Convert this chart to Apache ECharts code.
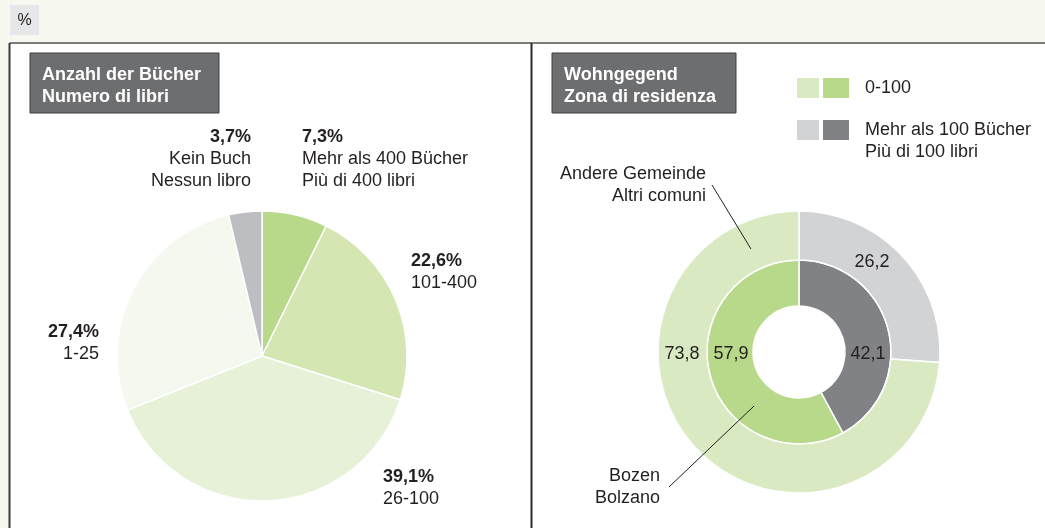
<!DOCTYPE html>
<html>
<head>
<meta charset="utf-8">
<script src="https://cdn.jsdelivr.net/npm/echarts@6/dist/echarts.min.js"></script>
<style>
  html, body { margin: 0; padding: 0; background: #f7f9f0; }
  #chart { width: 1045px; height: 528px; }
</style>
</head>
<body>
<div id="chart"></div>
<script>
// Anzahl der Bücher / Numero di libri (%), clockwise from 12 o'clock
var bookShares = [7.3, 22.6, 39.1, 27.4, 3.7];
var bookNamesDe = ['Mehr als 400 Bücher', '101-400', '26-100', '1-25', 'Kein Buch'];
var bookNamesIt = ['Più di 400 libri', '', '', '', 'Nessun libro'];
var bookColors = ['#b9d98a', '#d4e7b3', '#e7f1d7', '#f4f8ee', '#bcbec1'];

// Wohngegend / Zona di residenza: [Mehr als 100, 0-100]
var bozenValues = [42.1, 57.9];
var otherValues = [26.2, 73.8];
var groupNames = ['Mehr als 100 Bücher', '0-100'];

(function () {
    var chart = echarts.init(document.getElementById('chart'));
    var font = '"Liberation Sans", Arial, sans-serif';
    var txt = '#231f20';

    var fmt = function (v) { return String(v).replace('.', ','); };

    // label anchor per slice: x, y, align
    var bookLabelPos = [
        [302, 126, 'left'],
        [411, 250, 'left'],
        [383, 466, 'left'],
        [99, 321, 'right'],
        [251, 126, 'right']
    ];
    var innerLabelPos = [[868, 354], [731, 354]];
    var outerLabelPos = [[872, 262], [682, 354]];

    var bookData = bookShares.map(function (v, i) {
        return { value: v, name: bookNamesDe[i], itemStyle: { color: bookColors[i] } };
    });

    var option = {
        backgroundColor: '#f7f9f0',
        animation: false,
        textStyle: { fontFamily: font },
        graphic: [
            // % tag
            { type: 'rect', shape: { x: 10, y: 5, width: 29, height: 30 }, style: { fill: '#e6e7e8' } },
            { type: 'text', x: 24.5, y: 21, style: { text: '%', font: '16px ' + font, fill: txt, textAlign: 'center', textVerticalAlign: 'middle' } },
            // white panels
            { type: 'rect', z: -10, shape: { x: 9.5, y: 43, width: 1040, height: 490 }, style: { fill: '#fff' } },
            { type: 'line', shape: { x1: 9.5, y1: 43, x2: 1045, y2: 43 }, style: { stroke: '#7d7d7d', lineWidth: 2 } },
            { type: 'line', shape: { x1: 9.5, y1: 43, x2: 9.5, y2: 528 }, style: { stroke: '#3a3a3a', lineWidth: 2 } },
            { type: 'line', shape: { x1: 531.5, y1: 43, x2: 531.5, y2: 528 }, style: { stroke: '#2a2a2a', lineWidth: 2 } },
            // title boxes
            { type: 'rect', shape: { x: 30, y: 53, width: 189, height: 60 }, style: { fill: '#6d6e70', stroke: '#3f3f40', lineWidth: 1 } },
            { type: 'text', x: 42, y: 64, style: { text: 'Anzahl der Bücher\nNumero di libri', font: 'bold 18px ' + font, fill: '#fff', lineHeight: 22 } },
            { type: 'rect', shape: { x: 552, y: 53, width: 184, height: 60 }, style: { fill: '#6d6e70', stroke: '#3f3f40', lineWidth: 1 } },
            { type: 'text', x: 564, y: 64, style: { text: 'Wohngegend\nZona di residenza', font: 'bold 18px ' + font, fill: '#fff', lineHeight: 22 } },
            // legend
            { type: 'rect', shape: { x: 797, y: 78, width: 22, height: 20 }, style: { fill: '#d9eac3' } },
            { type: 'rect', shape: { x: 823, y: 78, width: 26, height: 20 }, style: { fill: '#b9d98a' } },
            { type: 'text', x: 865, y: 77, style: { text: '0-100', font: '18px ' + font, fill: txt, lineHeight: 22 } },
            { type: 'rect', shape: { x: 797, y: 120, width: 22, height: 20 }, style: { fill: '#d1d3d4' } },
            { type: 'rect', shape: { x: 823, y: 120, width: 26, height: 20 }, style: { fill: '#808285' } },
            { type: 'text', x: 865, y: 119, style: { text: 'Mehr als 100 Bücher\nPiù di 100 libri', font: '18px ' + font, fill: txt, lineHeight: 22 } },
            // callouts
            { type: 'text', x: 706, y: 163, style: { text: 'Andere Gemeinde\nAltri comuni', font: '18px ' + font, fill: txt, lineHeight: 22, textAlign: 'right' } },
            { type: 'line', z: 100, shape: { x1: 712, y1: 185, x2: 751, y2: 249 }, style: { stroke: '#231f20', lineWidth: 1 } },
            { type: 'text', x: 660, y: 465, style: { text: 'Bozen\nBolzano', font: '18px ' + font, fill: txt, lineHeight: 22, textAlign: 'right' } },
            { type: 'line', z: 100, shape: { x1: 669, y1: 487, x2: 754, y2: 406 }, style: { stroke: '#231f20', lineWidth: 1 } }
        ],
        series: [
            {
                type: 'pie',
                center: [262, 356],
                radius: [0, 145],
                startAngle: 90,
                avoidLabelOverlap: false,
                itemStyle: { borderColor: '#fff', borderWidth: 1.5 },
                label: {
                    show: true,
                    position: 'outside',
                    formatter: function (p) {
                        var s = '{b|' + fmt(p.value) + '%}\n{n|' + bookNamesDe[p.dataIndex] + '}';
                        if (bookNamesIt[p.dataIndex]) s += '\n{n|' + bookNamesIt[p.dataIndex] + '}';
                        return s;
                    },
                    rich: {
                        b: { fontFamily: font, fontSize: 18, fontWeight: 'bold', color: txt, lineHeight: 22 },
                        n: { fontFamily: font, fontSize: 18, color: txt, lineHeight: 22 }
                    }
                },
                labelLine: { show: false },
                labelLayout: function (params) {
                    var p = bookLabelPos[params.dataIndex];
                    return { x: p[0], y: p[1], align: p[2], verticalAlign: 'top' };
                },
                emphasis: { disabled: true },
                data: bookData
            },
            {
                type: 'pie',
                center: [799, 352],
                radius: [46, 92],
                startAngle: 90,
                avoidLabelOverlap: false,
                itemStyle: { borderColor: '#fff', borderWidth: 1.5 },
                label: {
                    show: true,
                    position: 'inside',
                    formatter: function (p) { return fmt(p.value); },
                    fontFamily: font, fontSize: 18, color: txt
                },
                labelLayout: function (params) {
                    var p = innerLabelPos[params.dataIndex];
                    return { x: p[0], y: p[1], align: 'center', verticalAlign: 'middle' };
                },
                emphasis: { disabled: true },
                data: bozenValues.map(function (v, i) {
                    return { value: v, name: groupNames[i], itemStyle: { color: ['#808285', '#b9d98a'][i] } };
                })
            },
            {
                type: 'pie',
                center: [799, 352],
                radius: [92, 141],
                startAngle: 90,
                avoidLabelOverlap: false,
                itemStyle: { borderColor: '#fff', borderWidth: 1.5 },
                label: {
                    show: true,
                    position: 'inside',
                    formatter: function (p) { return fmt(p.value); },
                    fontFamily: font, fontSize: 18, color: txt
                },
                labelLayout: function (params) {
                    var p = outerLabelPos[params.dataIndex];
                    return { x: p[0], y: p[1], align: 'center', verticalAlign: 'middle' };
                },
                emphasis: { disabled: true },
                data: otherValues.map(function (v, i) {
                    return { value: v, name: groupNames[i], itemStyle: { color: ['#d1d3d4', '#d9eac3'][i] } };
                })
            }
        ]
    };
    chart.setOption(option);
}());
</script>
</body>
</html>
